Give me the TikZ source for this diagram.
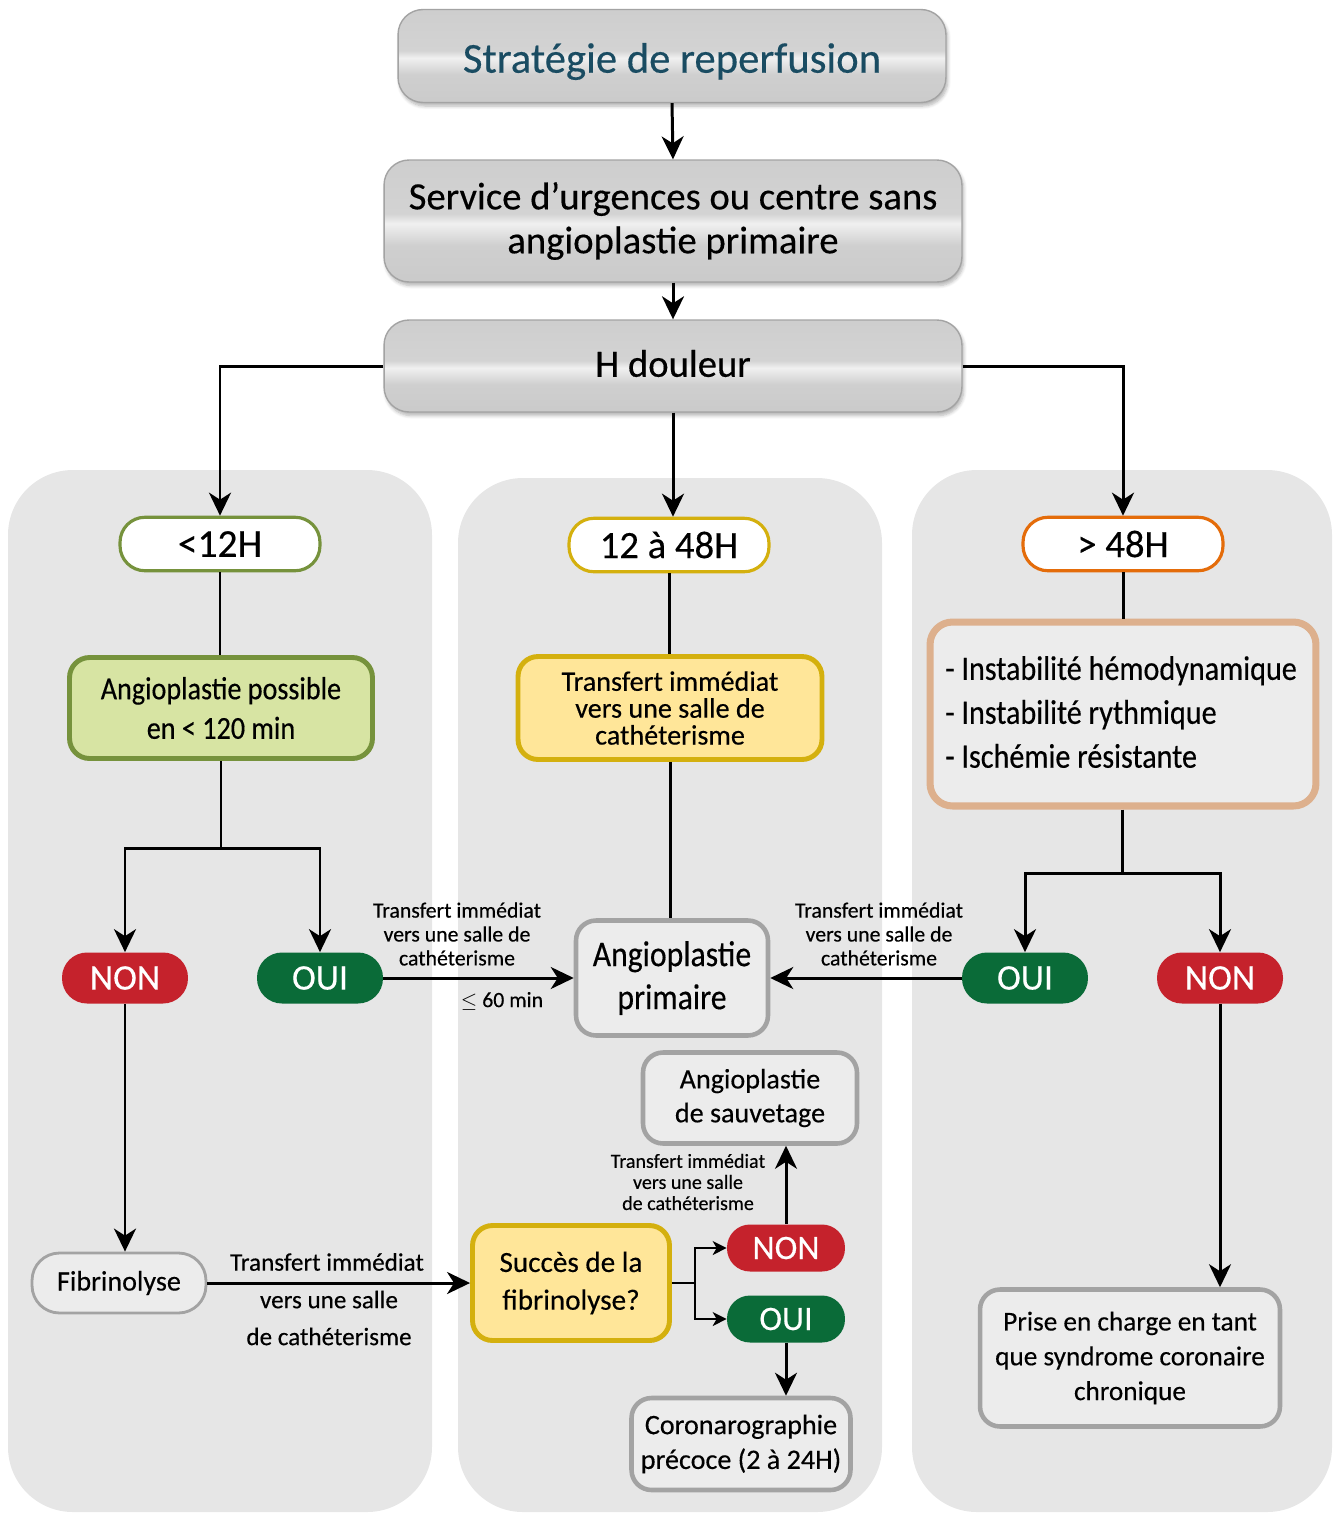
\documentclass[tikz,border=0pt]{standalone}
\usepackage{fontspec}
\setmainfont{Carlito}[FakeBold=0.35]
\newfontfamily\narrowfont{Carlito}[FakeStretch=0.88, FakeBold=0.35]
\usetikzlibrary{arrows.meta,shadows.blur,calc}

\definecolor{panelgray}{HTML}{E6E6E6}
\definecolor{boxedge}{HTML}{A3A3A3}
\definecolor{glassbot}{HTML}{C3C3C3}
\definecolor{glasslow}{HTML}{CFCFCF}
\definecolor{glasshi}{HTML}{F0F0F0}
\definecolor{glassmid}{HTML}{D3D3D3}
\definecolor{glasstop}{HTML}{C8C8C8}
\definecolor{titleblue}{HTML}{1A4C62}
\definecolor{olive}{HTML}{76923C}
\definecolor{olivefill}{HTML}{D7E4A3}
\definecolor{gold}{HTML}{D4B00E}
\definecolor{goldfill}{HTML}{FFE699}
\definecolor{orangeedge}{HTML}{E46C0A}
\definecolor{tan}{HTML}{DDB08D}
\definecolor{nonred}{HTML}{C5222C}
\definecolor{ouigreen}{HTML}{0A6B38}
\definecolor{lightbox}{HTML}{ECECEC}

% glossy grey fill of the header boxes
\pgfdeclareverticalshading{glass}{100bp}{
  color(0bp)=(glassbot); color(40bp)=(glasslow); color(49bp)=(glasshi);
  color(53bp)=(glassmid); color(100bp)=(glasstop)}

\newcommand\fsz[2]{\fontsize{#1}{#2}\selectfont}

\begin{document}
\begin{tikzpicture}[x=0.02cm,y=-0.02cm,
  topbox/.style={draw=boxedge, line width=0.8pt, rounded corners=0.5cm,
    shading=glass,
    blur shadow={shadow xshift=1pt, shadow yshift=-2pt, shadow opacity=30, shadow blur steps=6},
    align=center, inner sep=0pt},
  timepill/.style={draw=#1, fill=white, line width=1.8pt, rounded corners=0.5cm,
    minimum width=4cm, minimum height=1.07cm, inner sep=0pt},
  colbox/.style 2 args={draw=#1, fill=#2, line width=2.8pt, rounded corners=0.4cm,
    align=center, inner sep=0pt},
  graybox/.style={draw=boxedge, fill=lightbox, line width=2.6pt, rounded corners=0.4cm,
    align=center, inner sep=0pt},
  answer/.style={fill=#1, text=white, rounded corners=0.5cm, inner sep=0pt,
    minimum width=2.52cm, minimum height=1.02cm, font=\fsz{20.5}{22}},
  note/.style={align=center, inner sep=0pt, font=\fsz{12.4}{13.6}},
  ln/.style={line width=1.7pt},
  arr/.style={line width=1.7pt, -{Stealth[length=0.46cm,width=0.44cm,inset=0.14cm]}},
  arrsmall/.style={line width=1.1pt, -{Stealth[length=0.28cm,width=0.28cm,inset=0.08cm]}}
]
\useasboundingbox (0,0) rectangle (1334,1515);

% column panels
\fill[panelgray, rounded corners=1.3cm] (8,470) rectangle (432,1512);
\fill[panelgray, rounded corners=1.3cm] (458,478) rectangle (882,1512);
\fill[panelgray, rounded corners=1.3cm] (912,470) rectangle (1332,1512);

% header boxes
\node[topbox, minimum width=10.96cm, minimum height=1.86cm, text=titleblue,
  font=\fsz{24.3}{28}] (title) at (672,56) {\raisebox{-9.5pt}[0pt][0pt]{Stratégie de reperfusion}};
\node[topbox, minimum width=11.56cm, minimum height=2.44cm, font=\fsz{22}{25}]
  (serv) at (673,221) {Service d’urgences ou centre sans\\angioplastie primaire};
\node[topbox, minimum width=11.56cm, minimum height=1.84cm, font=\fsz{22}{24}]
  (hd) at (673,366) {\raisebox{3pt}{H douleur}};

% delay categories
\node[timepill=olive, font=\fsz{22.5}{24}] (p12) at (220,544) {<12H};
\node[timepill=gold, font=\fsz{22}{24}] (p1248) at (669,545) {12 à 48H};
\node[timepill=orangeedge, font=\fsz{22}{24}] (p48) at (1123,544) {> 48H};

\node[colbox={olive}{olivefill}, minimum width=6.06cm, minimum height=2.02cm,
  font=\narrowfont\fsz{18.2}{22.5}] (angpos) at (221,708) {Angioplastie possible\\en < 120 min};
\node[colbox={gold}{goldfill}, minimum width=6.08cm, minimum height=2.06cm,
  font=\fsz{16}{15.3}] (transf) at (670,708)
  {Transfert immédiat\\vers une salle de\\cathéterisme};
\node[draw=tan, fill=lightbox, line width=4pt, rounded corners=0.45cm,
  minimum width=7.72cm, minimum height=3.68cm, inner sep=0pt] (list) at (1123,714) {};
\node[anchor=west, align=left, inner sep=0pt, font=\narrowfont\fsz{19.5}{25}] (listtxt) at (945,712)
  {- Instabilité hémodynamique\\- Instabilité rythmique\\- Ischémie résistante};

% yes / no answers
\node[answer=nonred] (nonL) at (125,978) {NON};
\node[answer=ouigreen] (ouiL) at (320,978) {OUI};
\node[answer=ouigreen] (ouiR) at (1025,978) {OUI};
\node[answer=nonred] (nonR) at (1220,978) {NON};

\node[graybox, minimum width=3.84cm, minimum height=2.3cm, font=\narrowfont\fsz{20.5}{24.5}]
  (angprim) at (672,978) {Angioplastie\\primaire};

\node[graybox, line width=1.6pt, rounded corners=0.55cm, minimum width=3.48cm,
  minimum height=1.2cm, font=\fsz{16}{19}] (fib) at (119,1283) {Fibrinolyse};
\node[colbox={gold}{goldfill}, minimum width=3.94cm, minimum height=2.3cm,
  font=\fsz{16.6}{21.5}] (succ) at (571,1283) {Succès de la\\fibrinolyse?};
\node[answer=nonred, minimum width=2.36cm, minimum height=0.94cm, rounded corners=0.46cm,
  font=\fsz{19.5}{21}] (nonM) at (786,1248) {NON};
\node[answer=ouigreen, minimum width=2.36cm, minimum height=0.94cm, rounded corners=0.46cm,
  font=\fsz{19.5}{21}] (ouiM) at (786,1319) {OUI};
\node[graybox, minimum width=4.28cm, minimum height=1.82cm, font=\fsz{16}{19.3}]
  (sauv) at (750,1098) {Angioplastie\\de sauvetage};
\node[graybox, minimum width=4.38cm, minimum height=1.84cm, font=\fsz{16}{19.8}]
  (coro) at (741,1444) {Coronarographie\\précoce (2 à 24H)};
\node[graybox, minimum width=6cm, minimum height=2.74cm, font=\fsz{15.5}{19.8}]
  (prise) at (1130,1358) {Prise en charge en tant\\que syndrome coronaire\\chronique};

% connector labels
\node[note] (lblL) at (457,934) {Transfert immédiat\\vers une salle de\\cathéterisme};
\node[note] (lbl60) at (502,1001) {$\le$ 60 min};
\node[note] (lblR) at (879,934) {Transfert immédiat\\vers une salle de\\cathéterisme};
\node[note, font=\fsz{11.4}{12}] (lblM) at (688,1182)
  {Transfert immédiat\\vers une salle\\de cathéterisme};
\node[note, font=\fsz{14.3}{21}] (lblF1) at (327,1262) {Transfert immédiat};
\node[note, font=\fsz{14.3}{21}] (lblF2) at (329,1318) {vers une salle\\de cathéterisme};

% junction points
\coordinate (jL) at (221,848);
\coordinate (jR) at (1122,873);
\coordinate (jM) at (695,1283);

% connectors
\draw[arr] (title.south) -- (serv.north);
\draw[arr] (serv.south) -- (hd.north);
\draw[arr] (hd.west) -| (p12.north);
\draw[arr] (hd.south) -- (hd.south |- p1248.north);
\draw[arr] (hd.east) -| (p48.north);

\draw[ln] (p12.south) -- (p12.south |- angpos.north);
\draw[ln] (p1248.south) -- (p1248.south |- transf.north);
\draw[ln] (p48.south) -- (p48.south |- list.north);

\draw[ln] (angpos.south) -- (jL);
\draw[arr] (jL) -| (nonL.north);
\draw[arr] (jL) -| (ouiL.north);
\draw[ln] (list.south -| jR) -- (jR);
\draw[arr] (jR) -| (ouiR.north);
\draw[arr] (jR) -| (nonR.north);

\draw[arr] (ouiL.east) -- (angprim.west |- ouiL.east);
\draw[arr] (ouiR.west) -- (angprim.east |- ouiR.west);
\draw[ln] (transf.south) -- (transf.south |- angprim.north);

\draw[arr] (nonR.south) -- (nonR.south |- prise.north);
\draw[arr] (nonL.south) -- (nonL.south |- fib.north);
\draw[arr] (fib.east) -- (succ.west);

\draw[line width=1.1pt] (succ.east) -- (jM);
\draw[arrsmall] (jM) |- (nonM.west);
\draw[arrsmall] (jM) |- (ouiM.west);
\draw[arr] (nonM.north) -- (nonM.north |- sauv.south);
\draw[arr] (ouiM.south) -- (ouiM.south |- coro.north);
\end{tikzpicture}
\end{document}
